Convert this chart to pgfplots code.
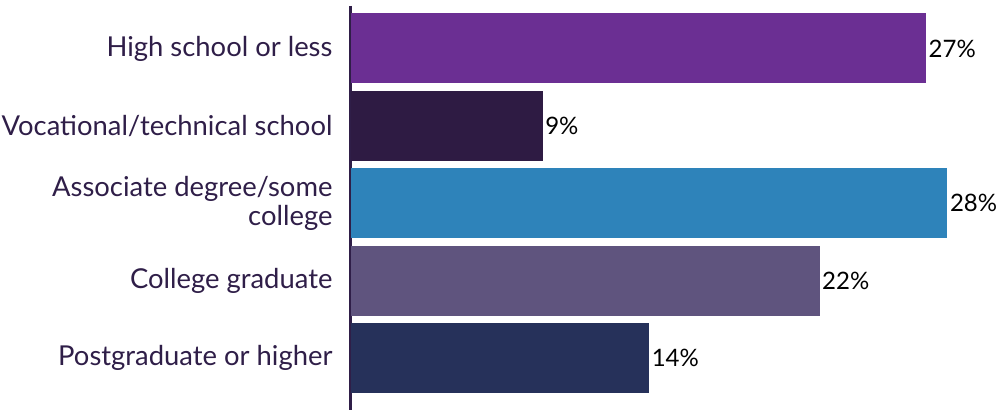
\documentclass[border=0pt]{standalone}
\usepackage{pgfplots}
\pgfplotsset{compat=1.18}
\usepackage{fontspec}
\setmainfont{Lato}
\definecolor{lab}{HTML}{2F1E48}
\definecolor{cA}{HTML}{6B2F93}
\definecolor{cB}{HTML}{2E1B43}
\definecolor{cC}{HTML}{2E83BA}
\definecolor{cD}{HTML}{5F547E}
\definecolor{cE}{HTML}{26315A}
\begin{document}
\begin{tikzpicture}[x=1pt,y=1pt]
\useasboundingbox (0,0) rectangle (1005,410);
\begin{axis}[
  at={(351pt,0pt)}, anchor=south west,
  scale only axis, width=654pt, height=404pt,
  xmin=0, xmax=30.7,
  ymin=-0.549, ymax=4.672, y dir=reverse,
  hide x axis,
  axis y line*=left,
  y axis line style={line width=3pt, color=lab, -},
  ytick={0,1,2,3,4},
  yticklabels={High school or less,Vocational/technical school,{Associate degree/some\\college},College graduate,Postgraduate or higher},
  yticklabel style={font=\fontsize{27.4}{29}\selectfont, color=lab, align=right, xshift=-15pt},
  major tick length=0pt,
  /pgf/number format/assume math mode=true,
  xbar, bar width=70pt, bar shift=0pt,
  nodes near coords={\pgfmathprintnumber\pgfplotspointmeta\%},
  nodes near coords style={font=\fontsize{24}{26}\selectfont, color=black, anchor=west, xshift=-1pt},
  clip=false,
]
\addplot[fill=cA, draw=none] coordinates {(27,0)};
\addplot[fill=cB, draw=none] coordinates {(9,1)};
\addplot[fill=cC, draw=none] coordinates {(28,2)};
\addplot[fill=cD, draw=none] coordinates {(22,3)};
\addplot[fill=cE, draw=none] coordinates {(14,4)};
\end{axis}
\end{tikzpicture}
\end{document}
